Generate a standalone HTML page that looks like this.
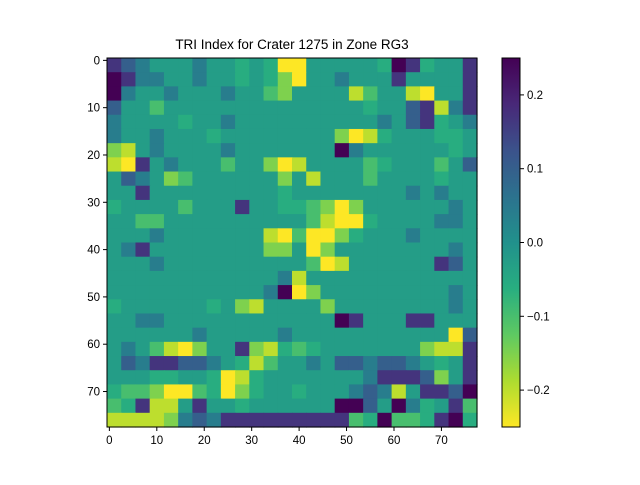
<!DOCTYPE html>
<html><head><meta charset="utf-8"><style>
body{margin:0;background:#fff;}
svg text{font-family:"Liberation Sans",sans-serif;fill:#000;}
</style></head><body>
<svg id="chart" width="640" height="480" viewBox="0 0 640 480">
<rect width="640" height="480" fill="#fff"/>
<text x="292" y="49" font-size="13.5" text-anchor="middle">TRI Index for Crater 1275 in Zone RG3</text>
<g id="cells"></g>
<rect x="107" y="58" width="370" height="369" fill="none" stroke="#000" stroke-width="1"/>
<g id="xaxis"></g>
<g id="yaxis"></g>
<defs><linearGradient id="cg" x1="0" y1="0" x2="0" y2="1">
<stop offset="0" stop-color="#440154"/><stop offset="0.125" stop-color="#482878"/><stop offset="0.25" stop-color="#3b528b"/><stop offset="0.375" stop-color="#2c728e"/><stop offset="0.5" stop-color="#21918c"/><stop offset="0.625" stop-color="#28ae80"/><stop offset="0.75" stop-color="#5ec962"/><stop offset="0.875" stop-color="#addc30"/><stop offset="1" stop-color="#fde725"/></linearGradient></defs>
<rect x="502" y="58" width="18" height="369" fill="url(#cg)" stroke="#000" stroke-width="1"/>
<g id="cbaxis"></g>
</svg>
<script>
const blockRows = [
"87655565545400555554984558",
"98665565545420556555855558",
"96556555655325555135510558",
"75535555555555555545578168",
"65555455655555555556578456",
"65565554555555552014555445",
"21565555655555559655555545",
"10856555355201555534555357",
"57652355555525155535555455",
"55855555555545555555565655",
"45555355585544320255555565",
"55335555555555310045555665",
"55565555555103002455565555",
"56855555555225025555555565",
"55565555555555301555555875",
"55555555555561555555555555",
"55555555555690255555555565",
"45555554521555525555555565",
"55665555555555559855588555",
"55555565555565555555555507",
"56531025582143455555552118",
"57688776541355657767765458",
"55544554014555555568887258",
"43320034024554555676158879",
"34811585545555559975964583",
"11112676888888888349334894"
];
const levelValues = [-0.25,-0.2,-0.15,-0.1,-0.06,-0.025,0.04,0.1,0.17,0.25];
const xTicks = [0,10,20,30,40,50,60,70];
const yTicks = [0,10,20,30,40,50,60,70];
const cbTicks = [0.2,0.1,0.0,-0.1,-0.2];
const nCells = 78, blockSize = 3;
const vmin = -0.25, vmax = 0.25;

const X0=107, Y0=58, W=370, H=369;
const cw = W/nCells, ch = H/nCells;
const xPos = c => X0 + c*cw;
const yPos = r => Y0 + r*ch;
const cbY = v => 58 + (vmax - v)/(vmax - vmin)*369;
const stops=[[68,1,84],[72,40,120],[59,82,139],[44,114,142],[33,145,140],[40,174,128],[94,201,98],[173,220,48],[253,231,37]];
function viridis(t){t=Math.max(0,Math.min(1,t));const s=t*8,i=Math.min(7,Math.floor(s)),f=s-i;
 const a=stops[i],b=stops[i+1];return `rgb(${a.map((v,k)=>Math.round(v+(b[k]-v)*f)).join(',')})`;}
const ns="http://www.w3.org/2000/svg";
const cells=document.getElementById('cells');
blockRows.forEach((row,r)=>{
 for(let c=0;c<row.length;c++){
  const v = levelValues[+row[c]];
  const t = (vmax - v)/(vmax-vmin);
  const el=document.createElementNS(ns,'rect');
  el.setAttribute('x',xPos(c*blockSize)); el.setAttribute('y',yPos(r*blockSize));
  el.setAttribute('width',cw*blockSize+0.6); el.setAttribute('height',ch*blockSize+0.6);
  el.setAttribute('fill',viridis(t));
  
  
  cells.appendChild(el);
 }
});
const xa=document.getElementById('xaxis');
xTicks.forEach(v=>{
 const x=xPos(v+0.5);
 const l=document.createElementNS(ns,'line');
 l.setAttribute('x1',x);l.setAttribute('x2',x);l.setAttribute('y1',427);l.setAttribute('y2',431);l.setAttribute('stroke','#000');
 
 
 xa.appendChild(l);
 const t=document.createElementNS(ns,'text');
 t.setAttribute('x',x);t.setAttribute('y',444);t.setAttribute('font-size','11.5');t.setAttribute('text-anchor','middle');t.textContent=v;
 
 
 xa.appendChild(t);
});
const ya=document.getElementById('yaxis');
yTicks.forEach(v=>{
 const y=yPos(v+0.5);
 const l=document.createElementNS(ns,'line');
 l.setAttribute('x1',103);l.setAttribute('x2',107);l.setAttribute('y1',y);l.setAttribute('y2',y);l.setAttribute('stroke','#000');
 
 
 ya.appendChild(l);
 const t=document.createElementNS(ns,'text');
 t.setAttribute('x',100);t.setAttribute('y',y+4);t.setAttribute('font-size','11.5');t.setAttribute('text-anchor','end');t.textContent=v;
 
 
 ya.appendChild(t);
});
const ca=document.getElementById('cbaxis');
cbTicks.forEach(v=>{
 const y=cbY(v);
 const l=document.createElementNS(ns,'line');
 l.setAttribute('x1',520);l.setAttribute('x2',524);l.setAttribute('y1',y);l.setAttribute('y2',y);l.setAttribute('stroke','#000');
 
 
 ca.appendChild(l);
 const t=document.createElementNS(ns,'text');
 t.setAttribute('x',527);t.setAttribute('y',y+4);t.setAttribute('font-size','11.5');
 t.textContent=(v<0?'\u2212':'')+Math.abs(v).toFixed(1);
 
 
 ca.appendChild(t);
});
</script>
</body></html>
